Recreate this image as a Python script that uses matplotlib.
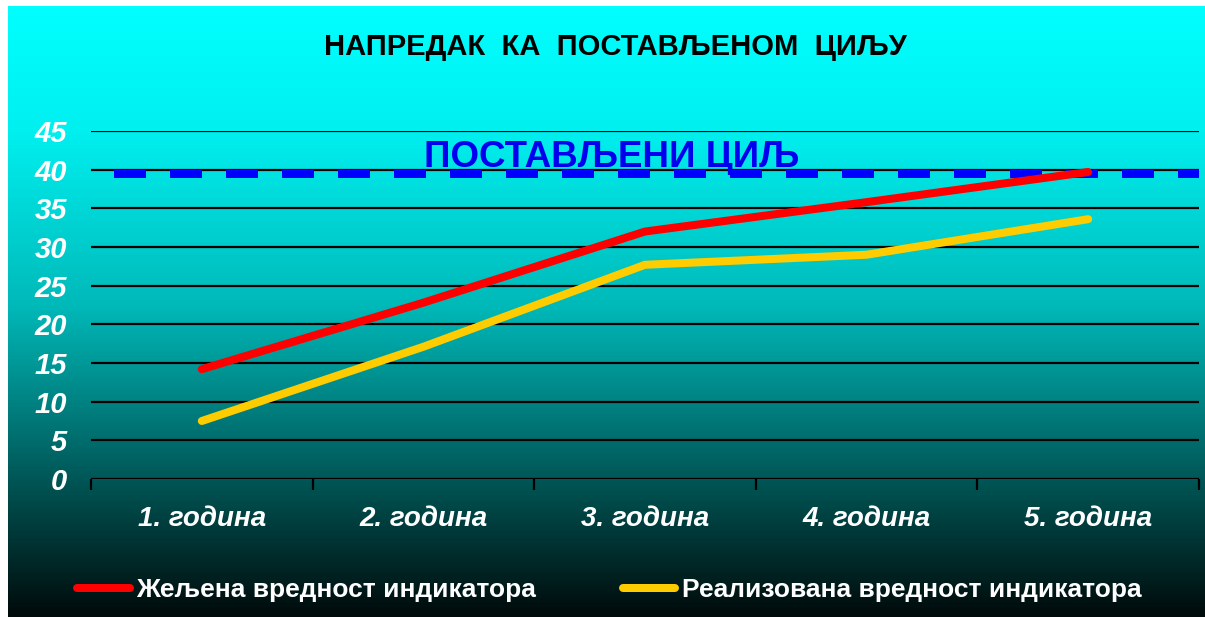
import numpy as np
import matplotlib
matplotlib.use("Agg")
import matplotlib.pyplot as plt
from matplotlib.colors import LinearSegmentedColormap

plt.rcParams['font.family'] = ['Liberation Sans', 'DejaVu Sans']

categories = ['1. година', '2. година', '3. година', '4. година', '5. година']
zeljena = [14.2, 22.8, 32.0, 35.8, 39.7]
realizovana = [7.5, 17.1, 27.7, 29.0, 33.6]
cilj = 39.5
yticks = [0, 5, 10, 15, 20, 25, 30, 35, 40, 45]

W, H = 1205, 617
fig = plt.figure(figsize=(W / 100, H / 100), dpi=100)
fig.patch.set_facecolor('white')

# gradient background (cyan -> dark teal)
bg = fig.add_axes([8 / W, 0, 1 - 8 / W, 611 / H], zorder=-10)
stops = [(0.0, (0, 10 / 255, 10 / 255)),
         (0.22, (0, 85 / 255, 85 / 255)),
         (0.51, (0, 185 / 255, 185 / 255)),
         (0.80, (0, 240 / 255, 240 / 255)),
         (1.0, (0, 1, 1))]
cmap = LinearSegmentedColormap.from_list('bg', stops)
grad = np.linspace(0, 1, 512).reshape(-1, 1)
bg.imshow(grad, aspect='auto', cmap=cmap, origin='lower', extent=[0, 1, 0, 1])
bg.set_axis_off()

ax = fig.add_axes([91 / W, 1 - 479 / H, (1199 - 91) / W, (479 - 131) / H])
ax.patch.set_alpha(0)
x = np.arange(len(categories))
ax.set_xlim(-0.5, len(categories) - 0.5)
ax.set_ylim(0, 45)

for yv in yticks:
    ax.axhline(yv, color='black', lw=1.6, zorder=1)

lw = 8 * 0.72
ax.plot([-0.5, len(categories) - 0.5], [cilj, cilj], color='#0000ff', lw=lw,
        linestyle=(4.125, (4, 3)), dash_capstyle='butt', zorder=2)
ax.text(2.0 - 0.15, 41.6, 'ПОСТАВЉЕНИ ЦИЉ', color='#0000ee', fontsize=26.5,
        fontweight='bold', ha='center', va='center', zorder=3)

ax.plot(x, zeljena, color='#ff0000', lw=lw, solid_capstyle='round',
        solid_joinstyle='round', zorder=4, label='Жељена вредност индикатора')
ax.plot(x, realizovana, color='#ffcc00', lw=lw, solid_capstyle='round',
        solid_joinstyle='round', zorder=4, label='Реализована вредност индикатора')

for s in ['top', 'right', 'left', 'bottom']:
    ax.spines[s].set_visible(False)

ax.set_yticks(yticks)
ax.set_yticklabels([str(v) for v in yticks], color='white', fontsize=21,
                   fontstyle='italic', fontweight='bold')
ax.tick_params(axis='y', length=0, pad=17)

ax.set_xticks(np.arange(-0.5, len(categories)), minor=False)
ax.set_xticklabels([])
ax.tick_params(axis='x', length=8, width=1.6, color='black', direction='out')
for xi, c in zip(x, categories):
    ax.text(xi, -5.2, c, color='white', fontsize=20, fontstyle='italic',
            fontweight='bold', ha='center', va='center')

leg = ax.legend(loc='center', bbox_to_anchor=(609 / W, 1 - 590 / H),
                bbox_transform=fig.transFigure, ncol=2, frameon=False,
                handlelength=2.0, handletextpad=0.23, columnspacing=3.3,
                prop={'size': 19, 'weight': 'bold'})
for t in leg.get_texts():
    t.set_color('white')

fig.text(615 / W, 1 - 47 / H, 'НАПРЕДАК  КА  ПОСТАВЉЕНОМ  ЦИЉУ', color='black',
         fontsize=21, fontweight='bold', ha='center', va='center')

fig.savefig('out.png', dpi=100)
